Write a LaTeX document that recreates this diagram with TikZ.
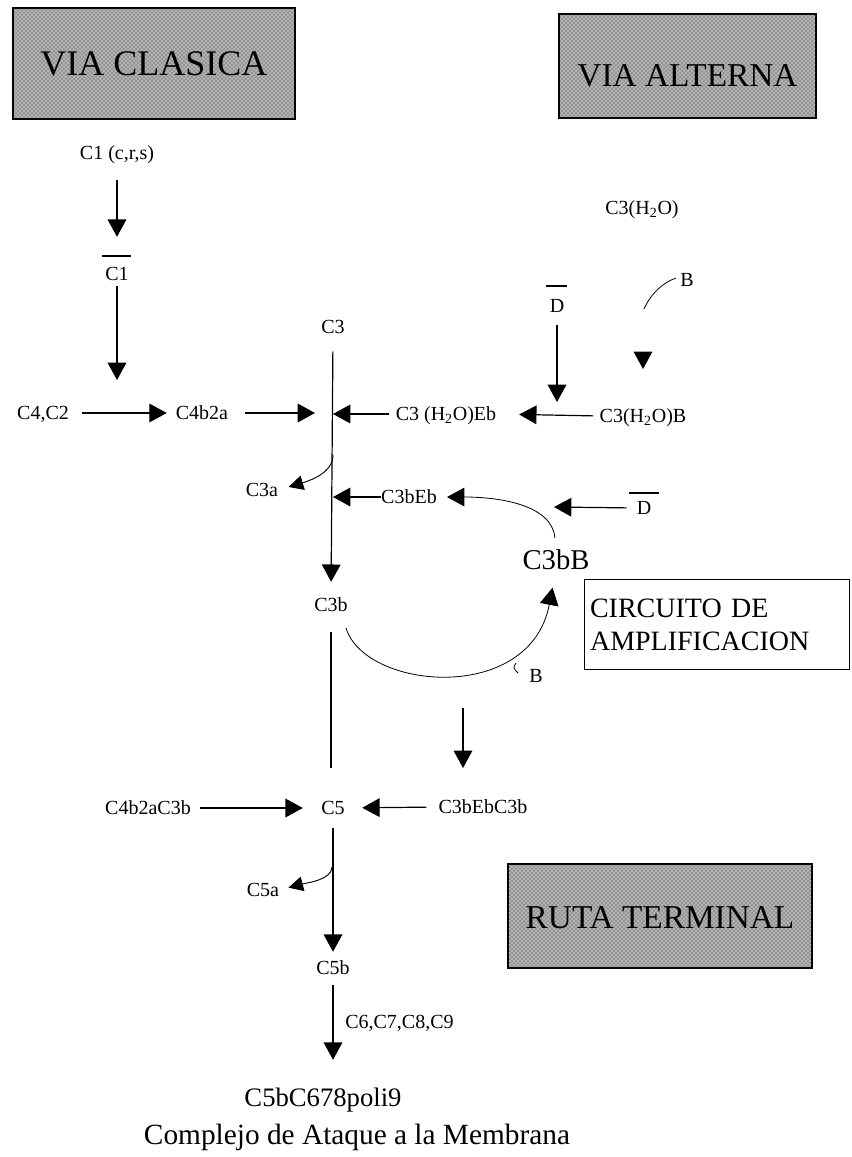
\documentclass[tikz,border=0pt]{standalone}
\usepackage{fontspec}
\setmainfont{Liberation Serif}
\usetikzlibrary{arrows.meta,patterns}
\begin{document}
\begin{tikzpicture}[x=0.75pt,y=-0.75pt,
  lbl/.style={inner sep=0pt, font=\fontsize{15}{18}\selectfont, text height=10pt, text depth=0pt},
  biglbl/.style={inner sep=0pt, font=\fontsize{21.5}{24}\selectfont, text height=14pt, text depth=0pt},
  bigbox/.style={draw, line width=1.6pt, fill=black!30, postaction={pattern=crosshatch dots, pattern color=black!80},
                 inner sep=0pt, text height=18pt, text depth=0pt},
  arr/.style={line width=0.9pt, -{Triangle[length=13pt,width=14pt]}},
  carr/.style={line width=0.7pt, -{Triangle[length=11pt,width=11pt]}},
  ln/.style={line width=0.9pt},
  thinln/.style={line width=0.6pt},
  barln/.style={line width=0.8pt}
]
\path[use as bounding box, fill=white] (0,0) rectangle (851,1157);

% title boxes
\node[bigbox, minimum width=211.5pt, minimum height=83pt, font=\fontsize{27}{30}\selectfont] (vc) at (154,63.5) {VIA CLASICA};
\node[bigbox, minimum width=193pt, minimum height=78pt, font=\fontsize{25}{28}\selectfont, text height=30pt] (va) at (687.5,66) {VIA ALTERNA};
\node[bigbox, minimum width=228pt, minimum height=78pt, font=\fontsize{25}{28}\selectfont] (rt) at (660,916) {RUTA TERMINAL};

% classical pathway
\node[lbl] (c1) at (117,153) {C1 (c,r,s)};
\node[lbl] (c1b) at (117,274) {C1};
\draw[barln] ([shift={(-15,-18)}]c1b.center) -- ([shift={(14,-18)}]c1b.center);
\coordinate (k1) at (117,380);
\draw[arr, shorten <=15.2pt, shorten >=22.7pt] (c1.south) -- (c1b.north);
\draw[arr, shorten <=4pt] (c1b.south) -- (k1);

\node[lbl] (c4c2) at (43,413) {C4,C2};
\node[lbl] (c4b2a) at (202,413) {C4b2a};
\coordinate (j1) at (333,414);
\draw[arr, shorten <=9.9pt, shorten >=6.7pt] (c4c2.east) -- (c4b2a.west);
\draw[arr, shorten <=12.7pt, shorten >=13.5pt] (c4b2a.east) -- (c4b2a.east -| j1);

% C3 column
\node[lbl] (c3) at (333,327) {C3};
\node[lbl] (c3b) at (331,605) {C3b};
\draw[arr, shorten <=13pt, shorten >=12.2pt] (c3.south) -- (c3b.north);

% alternative pathway
\node[lbl] (c3h2o) at (642,208) {C3(H\textsubscript{2}O)};
\node[lbl] (b1) at (687,280) {B};
\coordinate (bc1) at (644,309);
\draw[thinln] (bc1) .. controls (651,293) and (664,282) .. ([shift={(-4,-2)}]b1.west);
\coordinate (tri1) at (643,352);
\coordinate (tri2) at (643,369);
\draw[arr] (tri1) -- (tri2);

\node[lbl] (d1) at (557,306) {D};
\draw[barln] ([shift={(-11,-20)}]d1.center) -- ([shift={(10,-20)}]d1.center);
\coordinate (kd1) at (557,402);
\draw[arr, shorten <=9.2pt] (d1.south) -- (kd1);

\node[lbl] (h2oeb) at (446,414) {C3 (H\textsubscript{2}O)Eb};
\node[lbl] (h2ob) at (643,416) {C3(H\textsubscript{2}O)B};
\draw[arr, shorten <=5pt] (h2oeb.west) -- (j1);
\draw[arr, shorten <=4.5pt, shorten >=17pt] (h2ob.west) -- (h2oeb.east);

% C3a
\coordinate (c3as) at (333,455);
\node[lbl] (c3a) at (262,490) {C3a};
\draw[carr, shorten >=8pt] (c3as) .. controls (333,472) and (312,480) .. (c3a.east);

% amplification loop
\node[lbl] (c3beb) at (409,497) {C3bEb};
\coordinate (j2) at (333,497);
\draw[arr] (c3beb.west) -- (j2);

\node[biglbl] (c3bb) at (556,560) {C3bB};
\draw[thinln, -{Triangle[length=13pt,width=14pt]}, shorten <=9.5pt, shorten >=7.5pt]
  (c3bb.north) .. controls (552,505) and (500,497) .. (c3beb.east);

\node[lbl] (d2) at (644,508) {D};
\draw[barln] ([shift={(-15,-15)}]d2.center) -- ([shift={(15,-15)}]d2.center);
\coordinate (kd2) at (554,507);
\draw[arr, shorten <=7.5pt] (d2.west) -- (kd2);

\coordinate (lp) at (346,628);
\draw[thinln, -{Triangle[length=13pt,width=14pt]}, shorten >=13.8pt]
  (lp) .. controls (365,690) and (530,705) .. (c3bb.south);
\node[lbl] (b2) at (536,676) {B};
\draw[thinln] ([shift={(-20,-13)}]b2.center) .. controls ([shift={(-23,-8)}]b2.center) .. ([shift={(-18,-3)}]b2.center);

\node[draw, line width=0.6pt, anchor=north west, minimum width=198.5pt, minimum height=67.5pt,
      inner sep=0pt, text width=190pt, align=left, font=\fontsize{21}{24.75}\selectfont] (circ) at (584,579)
  {CIRCUITO DE\\AMPLIFICACION};

% terminal pathway
\node[lbl] (c5) at (333,808) {C5};
\draw[ln, shorten <=15.2pt, shorten >=25pt] (c3b.south) -- (c3b.south |- c5.north);

\node[lbl] (c4b2ac3b) at (148,808) {C4b2aC3b};
\node[lbl] (c3bebc3b) at (483,807) {C3bEbC3b};
\draw[arr, shorten <=6.9pt, shorten >=13.7pt] (c4b2ac3b.east) -- (c5.west);
\draw[arr, shorten <=8.7pt, shorten >=13pt] (c3bebc3b.west) -- (c5.east);

\coordinate (kd3a) at (463,708);
\coordinate (kd3b) at (463,768);
\draw[arr] (kd3a) -- (kd3b);

\node[lbl] (c5b) at (333,968) {C5b};
\draw[arr, shorten <=10pt, shorten >=7pt] (c5.south) -- (c5b.north);

\coordinate (c5as) at (332,867);
\node[lbl] (c5a) at (263,890) {C5a};
\draw[carr, shorten >=7pt] (c5as) .. controls (332,880) and (306,883) .. (c5a.east);

\node[inner sep=0pt, font=\fontsize{20}{24}\selectfont, text height=13.5pt, text depth=0pt] (mac) at (323,1097) {C5bC678poli9};
\draw[arr, shorten <=7.7pt, shorten >=21pt] (c5b.south) -- (c5b.south |- mac.north);
\node[lbl, anchor=west] (c6789) at (345,1022) {C6,C7,C8,C9};

\node[inner sep=0pt, font=\fontsize{22}{26}\selectfont] (cam) at (357,1137) {Complejo de Ataque a la Membrana};
\end{tikzpicture}
\end{document}
